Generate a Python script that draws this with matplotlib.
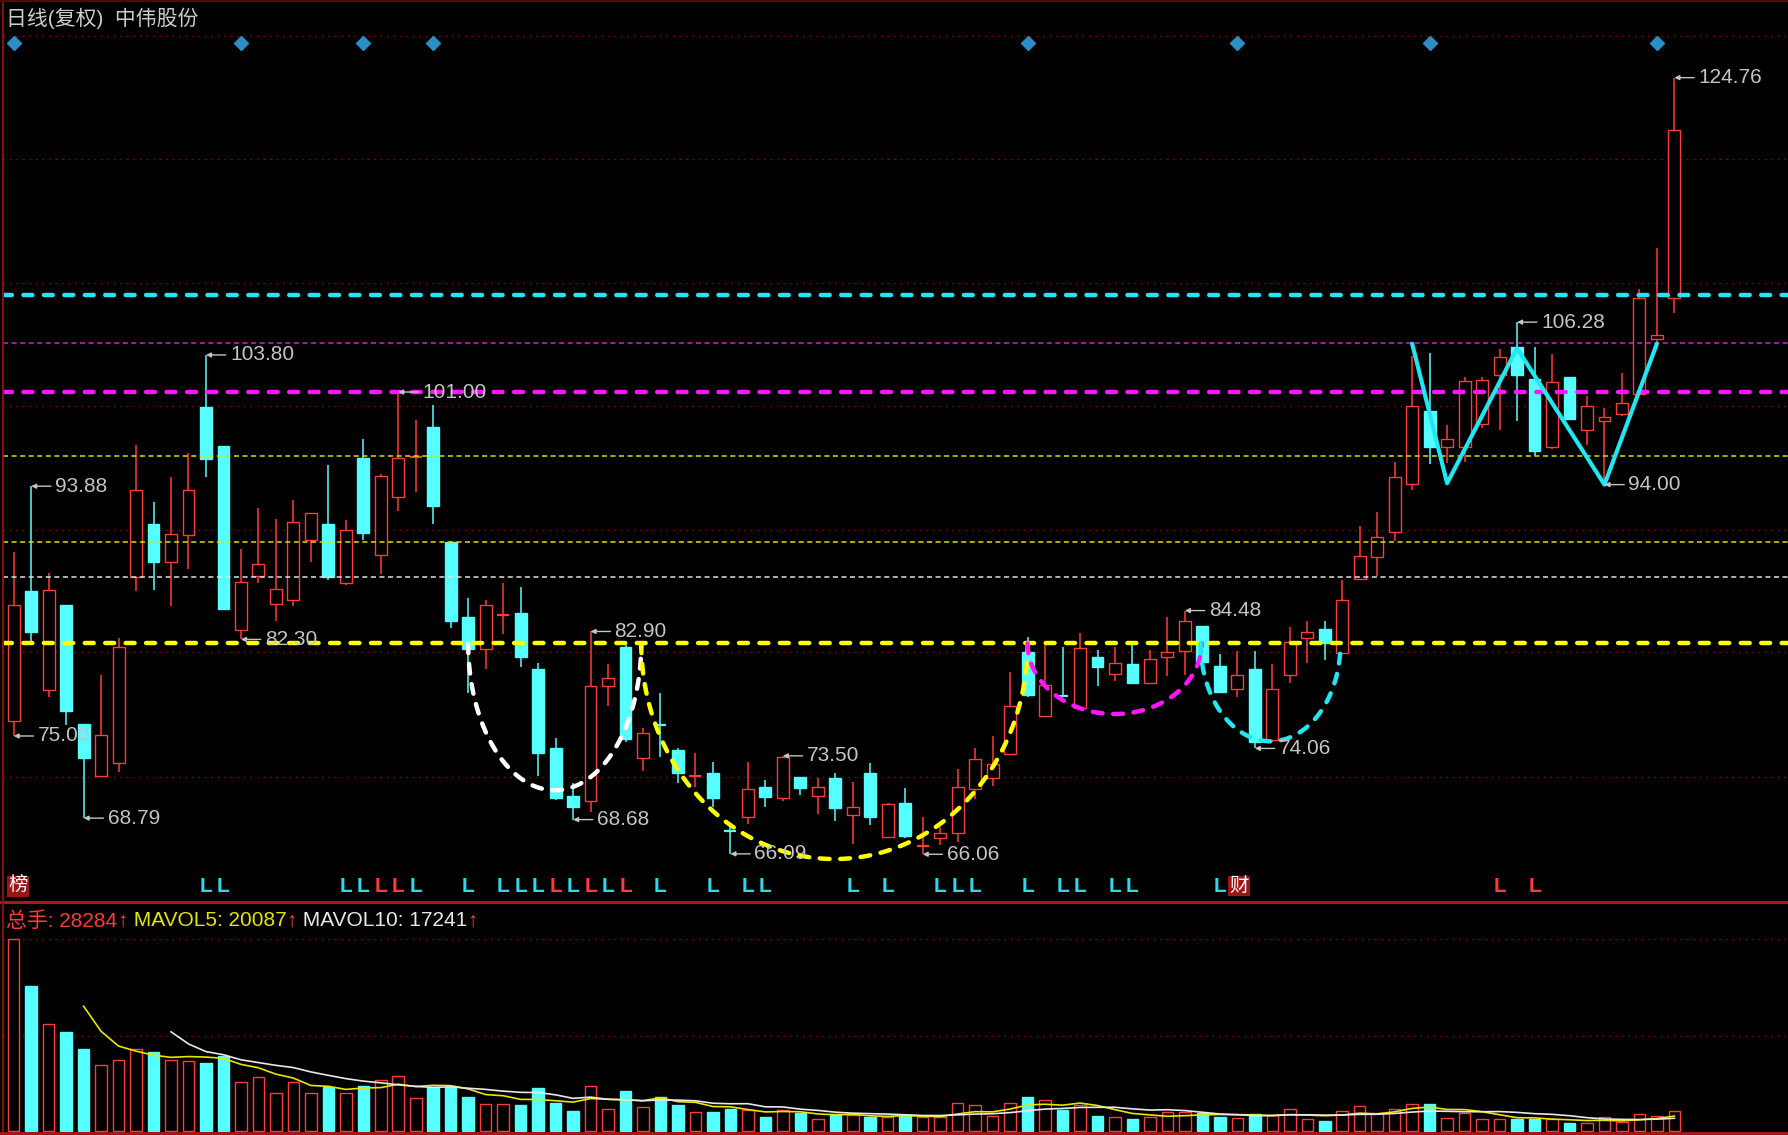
"""中伟股份 日线(复权) K线 + 成交量 复刻图。输出 out.png"""
import numpy as np
import pandas as pd
import matplotlib
matplotlib.use("Agg")
import matplotlib.pyplot as plt
from matplotlib.patches import Rectangle
from matplotlib.lines import Line2D
from matplotlib.transforms import blended_transform_factory

plt.rcParams["font.family"] = ["Liberation Sans", "Noto Sans CJK SC", "DejaVu Sans"]
plt.rcParams["axes.unicode_minus"] = False

TITLE = "日线(复权)  中伟股份"

# ---- K线数据 ----
OPEN = [76.12, 85.98, 78.51, 84.92, 75.93, 72.01, 72.94, 86.99, 91.02, 88.18,
        90.17, 99.85, 96.93, 83.01, 87.12, 85.00, 85.27, 89.85, 91.02, 86.59,
        96.00, 88.71, 93.03, 96.05, 98.39, 89.64, 84.00, 81.55, 84.10, 84.26,
        80.04, 74.08, 70.50, 70.11, 78.78, 81.75, 73.31, 75.90, 73.94, 71.90,
        72.23, 67.90, 68.85, 71.12, 70.29, 71.92, 70.46, 71.80, 69.03, 72.23,
        67.39, 69.96, 66.60, 67.26, 67.69, 70.97, 71.80, 73.64, 81.37, 76.51,
        78.10, 77.09, 80.94, 79.68, 80.44, 79.03, 80.99, 81.45, 83.31, 80.28,
        78.52, 80.03, 74.69, 79.60, 82.37, 83.06, 81.24, 86.83, 88.50, 90.44,
        94.04, 99.58, 96.81, 96.86, 98.56, 102.28, 104.41, 102.02, 96.83, 102.15,
        98.16, 98.82, 99.36, 100.82, 105.00, 108.14]
HIGH = [88.90, 93.88, 87.31, 84.92, 75.93, 79.62, 82.40, 96.98, 92.69, 94.60,
        96.40, 103.80, 96.93, 89.16, 92.21, 91.42, 92.82, 91.89, 95.47, 91.36,
        97.46, 94.81, 101.00, 98.92, 99.98, 89.77, 85.45, 85.27, 86.54, 86.25,
        80.55, 74.87, 71.48, 82.90, 80.44, 81.88, 75.63, 78.27, 74.07, 73.69,
        73.01, 68.40, 73.01, 71.67, 73.50, 71.92, 71.80, 72.17, 71.55, 72.93,
        69.96, 71.04, 68.85, 68.14, 72.48, 74.07, 75.00, 79.86, 82.45, 81.88,
        81.70, 82.81, 81.50, 81.75, 82.00, 81.50, 83.97, 84.48, 83.31, 81.19,
        81.44, 81.44, 80.44, 83.21, 83.71, 83.71, 86.78, 90.87, 91.95, 95.73,
        103.72, 103.97, 98.50, 102.10, 102.15, 104.28, 106.28, 104.41, 103.88, 102.15,
        100.69, 99.76, 102.42, 108.80, 111.87, 124.76]
LOW = [75.00, 82.09, 77.98, 75.86, 68.79, 71.88, 72.28, 85.93, 86.01, 84.82,
       87.60, 94.60, 84.60, 82.30, 86.54, 83.68, 84.82, 88.18, 86.80, 86.38,
       89.85, 87.25, 91.97, 93.41, 91.05, 83.15, 78.24, 80.10, 82.70, 80.18,
       72.01, 70.16, 68.68, 69.28, 77.26, 74.57, 72.38, 73.43, 71.47, 71.17,
       69.66, 66.09, 68.35, 69.66, 70.11, 70.54, 69.10, 68.60, 66.80, 68.27,
       67.26, 67.26, 66.06, 66.76, 67.01, 70.21, 71.22, 73.64, 77.97, 76.51,
       77.95, 77.05, 78.78, 79.18, 78.90, 78.95, 79.53, 79.61, 80.23, 78.22,
       77.97, 74.06, 74.56, 79.03, 80.49, 80.74, 81.24, 86.83, 87.09, 89.76,
       93.59, 95.55, 95.65, 95.73, 98.29, 98.16, 98.82, 96.16, 96.70, 98.90,
       96.96, 94.00, 99.22, 100.82, 104.30, 106.99]
CLOSE = [84.87, 82.83, 86.06, 76.92, 73.34, 75.11, 81.74, 93.62, 88.13, 90.30,
         93.62, 95.92, 84.60, 86.64, 87.97, 86.11, 91.15, 91.89, 86.99, 90.57,
         90.38, 94.68, 96.00, 96.20, 92.37, 83.68, 81.55, 84.87, 84.20, 80.97,
         73.73, 70.29, 69.62, 78.78, 79.36, 74.75, 75.25, 75.80, 72.17, 72.00,
         70.29, 67.80, 70.97, 70.41, 73.38, 71.04, 71.12, 69.53, 69.66, 68.85,
         69.86, 67.44, 66.75, 67.69, 71.12, 73.23, 72.88, 77.26, 78.10, 78.85,
         78.00, 81.62, 80.19, 80.49, 78.98, 80.79, 81.32, 83.71, 80.61, 78.34,
         79.60, 74.56, 78.52, 82.12, 82.88, 82.05, 85.27, 88.60, 90.06, 94.54,
         99.94, 96.81, 97.42, 101.85, 101.88, 103.61, 102.28, 96.56, 101.75, 98.96,
         99.97, 99.09, 100.15, 108.14, 105.30, 120.78]
# 成交量 (手)
VOLUME = [266950, 201800, 148570, 138240, 113770, 92000, 98840, 113770, 109640, 98840,
          97560, 95180, 104870, 67850, 74840, 53390, 67850, 53390, 61810, 53390,
          62770, 71030, 77070, 45600, 61810, 60860, 47830, 37660, 37660, 36230,
          60380, 38610, 28280, 62770, 31140, 55770, 33370, 47830, 36230, 26540,
          26540, 31140, 29240, 19540, 29240, 24630, 16210, 23200, 22250, 19860,
          19860, 22250, 19070, 19070, 38610, 35750, 20970, 38610, 47830, 43220,
          29240, 35750, 21450, 19070, 16680, 19070, 26060, 26060, 24630, 19070,
          18590, 23200, 22250, 30670, 16210, 13980, 28280, 35280, 25580, 30670,
          37660, 37660, 18590, 24630, 16210, 16210, 17160, 17160, 16210, 11600,
          10650, 19070, 13030, 23200, 20970, 28284]

# 高低点标注 (索引, 文本)
HIGH_MARKS = [(1, "93.88"), (11, "103.80"), (22, "101.00"), (33, "82.90"),
              (44, "73.50"), (67, "84.48"), (86, "106.28"), (95, "124.76")]
LOW_MARKS = [(0, "75.00"), (4, "68.79"), (13, "82.30"), (32, "68.68"),
             (41, "66.09"), (52, "66.06"), (71, "74.06"), (91, "94.00")]

# 底部 L 信号
L_IDX = [11, 12, 19, 20, 21, 22, 23, 26, 28, 29, 30, 31, 32, 33, 34, 35, 37,
         40, 42, 43, 48, 50, 53, 54, 55, 58, 60, 61, 63, 64, 69, 85, 87]
L_KIND = ["c", "c", "c", "c", "r", "r", "c", "c", "c", "c", "c", "r", "c", "r",
          "c", "r", "c", "c", "c", "c", "c", "c", "c", "c", "c", "c", "c", "c",
          "c", "c", "c", "r", "r"]
TAGS = [(0.25, "榜"), (70.1, "财")]
DIAMOND_IDX = [0, 13, 20, 24, 58, 70, 81, 94]
DIAMOND_Y = 127.35

# 水平线
THICK_LEVELS = [108.30, 101.00, 82.00]
THICK_COLORS = ["#22e6f2", "#ff18ff", "#ffff00"]
THIN_LEVELS = [104.72, 96.13, 89.64, 87.02]
THIN_COLORS = ["#c828c8", "#dede00", "#dede00", "#e0e0e0"]
GRID_LEVELS = [127.92, 118.60, 109.23, 99.97, 90.58, 81.33, 71.90]
VOL_GRID = [267750, 132680]

# 手绘弧线: (中心索引, 中心价, 半宽, 半高, 颜色)
ARCS = [(30.95, 82.0, 4.95, 11.1, "#ffffff"),
        (46.95, 82.0, 11.05, 16.3, "#ffff00"),
        (62.98, 82.0, 4.98, 5.34, "#ff18ff"),
        (71.90, 82.0, 4.00, 7.40, "#22e6f2")]
W_X = [80.0, 82.0, 86.0, 91.0, 94.0]
W_Y = [104.65, 94.1, 104.3, 94.0, 104.65]

UP = "#ff3c3c"
DOWN = "#55ffff"
LABEL = "#c4c4c4"
BW = 0.68   # K线实体宽
VW = 0.66   # 量柱宽

XLIM = (-0.587, 101.5)
YLIM = (62.47, 130.63)
VLIM = (-2400, 319400)


def draw_candles(ax):
    for i, (o, h, l, c) in enumerate(zip(OPEN, HIGH, LOW, CLOSE)):
        up = c >= o
        col = UP if up else DOWN
        top, bot = max(o, c), min(o, c)
        if up:
            ax.vlines(i, top, h, color=col, lw=1.1, zorder=2)
            ax.vlines(i, l, bot, color=col, lw=1.1, zorder=2)
        else:
            ax.vlines(i, l, h, color=col, lw=1.1, zorder=2)
        if top - bot < 0.25:
            ax.hlines((o + c) / 2, i - BW / 2, i + BW / 2, color=col, lw=1.6, zorder=3)
        else:
            ax.add_patch(Rectangle((i - BW / 2, bot), BW, top - bot,
                                   facecolor="black" if up else col,
                                   edgecolor=col, lw=1.0, zorder=3))


def draw_main(ax):
    ax.set_facecolor("black")
    ax.set_xlim(*XLIM)
    ax.set_ylim(*YLIM)
    ax.axis("off")

    for y in GRID_LEVELS:
        ax.axhline(y, color="#8a0c0c", lw=0.9, ls=(0, (1.2, 4.0)), zorder=1)

    draw_candles(ax)

    for y, c in zip(THIN_LEVELS, THIN_COLORS):
        ax.axhline(y, color=c, lw=1.1, ls=(0, (3.3, 2.3)), zorder=4)
    for y, c in zip(THICK_LEVELS, THICK_COLORS):
        ax.axhline(y, color=c, lw=3.2, ls=(0, (2.0, 2.6)),
                   dash_capstyle="round", zorder=5)

    t = np.linspace(np.pi, 2 * np.pi, 120)
    for cx, cy, rx, ry, c in ARCS:
        ax.plot(cx + rx * np.cos(t), cy + ry * np.sin(t), color=c, lw=3.2,
                ls=(0, (2.2, 2.4)), dash_capstyle="round", zorder=6)
    ax.plot(W_X, W_Y, color="#22e6f2", lw=3.0, solid_capstyle="round", zorder=6)

    ax.plot(DIAMOND_IDX, [DIAMOND_Y] * len(DIAMOND_IDX), "D", color="#2b8fc6",
            ms=7.5, ls="none", zorder=6)

    for idx, txt in HIGH_MARKS:
        mark(ax, idx, HIGH[idx], txt)
    for idx, txt in LOW_MARKS:
        mark(ax, idx, LOW[idx], txt)

    tr = blended_transform_factory(ax.transData, ax.transAxes)
    for idx, k in zip(L_IDX, L_KIND):
        ax.text(idx, 0.0171, "L", transform=tr, color=UP if k == "r" else "#30d8e8",
                fontsize=15, fontweight="bold", ha="center", va="center", zorder=7)
    for x, s in TAGS:
        ax.text(x, 0.0171, s, transform=tr, color="white", fontsize=14,
                ha="center", va="center", zorder=7,
                bbox=dict(facecolor="#9a1616", edgecolor="none", pad=0.8))

    ax.text(0.0015, 0.9798, TITLE, transform=ax.transAxes, color="#cccccc",
            fontsize=15, ha="left", va="center")


def mark(ax, i, price, txt):
    ax.annotate(txt, xy=(i, price), xytext=(i + 1.37, price), color=LABEL,
                fontsize=15, ha="left", va="center", zorder=8,
                arrowprops=dict(arrowstyle="-|>", color=LABEL, lw=1.0,
                                mutation_scale=7, shrinkA=1, shrinkB=0))


def draw_volume(ax):
    ax.set_facecolor("black")
    ax.set_xlim(*XLIM)
    ax.set_ylim(*VLIM)
    ax.axis("off")
    for y in VOL_GRID:
        ax.axhline(y, color="#8a0c0c", lw=0.9, ls=(0, (1.2, 4.0)), zorder=1)
    for i, v in enumerate(VOLUME):
        up = CLOSE[i] >= OPEN[i]
        col = UP if up else DOWN
        ax.add_patch(Rectangle((i - VW / 2, 0), VW, v,
                               facecolor="black" if up else col,
                               edgecolor=col, lw=1.0, zorder=2))
    vol = pd.Series(VOLUME, dtype=float)
    x = np.arange(len(VOLUME))
    ax.plot(x, vol.rolling(5).mean(), color="#e6e600", lw=1.2, zorder=3)
    ax.plot(x, vol.rolling(10).mean(), color="#e8e8e8", lw=1.2, zorder=3)

    pieces = [("总手: 28284", UP), ("↑", UP), (" MAVOL5: 20087", "#e6e600"), ("↑", UP),
              (" MAVOL10: 17241", "#e8e8e8"), ("↑", UP)]
    prev = ax.text(0.0015, 0.918, pieces[0][0], transform=ax.transAxes,
                   color=pieces[0][1], fontsize=15, ha="left", va="center")
    for s, c in pieces[1:]:
        prev = ax.annotate(s, xy=(1, 0.5), xycoords=prev, color=c, fontsize=15,
                           ha="left", va="center")


def main():
    fig = plt.figure(figsize=(17.88, 11.35), dpi=100, facecolor="black")
    left = 3 / 1568
    ax = fig.add_axes([left, 0.2055, 1 - left, 0.7945])
    axv = fig.add_axes([left, 0.002, 1 - left, 0.2035])
    draw_main(ax)
    draw_volume(axv)

    # 边框
    fig.add_artist(Line2D([0, 1], [0.2055, 0.2055], color="#b41414", lw=2.2))
    fig.add_artist(Line2D([left, left], [0, 1], color="#8a1010", lw=1.4))
    fig.add_artist(Line2D([0, 1], [0.999, 0.999], color="#5a0808", lw=1.4))
    fig.add_artist(Line2D([0, 1], [0.0015, 0.0015], color="#b41414", lw=2.0))

    fig.savefig("out.png", dpi=100, facecolor="black")
    plt.close(fig)


if __name__ == "__main__":
    main()
